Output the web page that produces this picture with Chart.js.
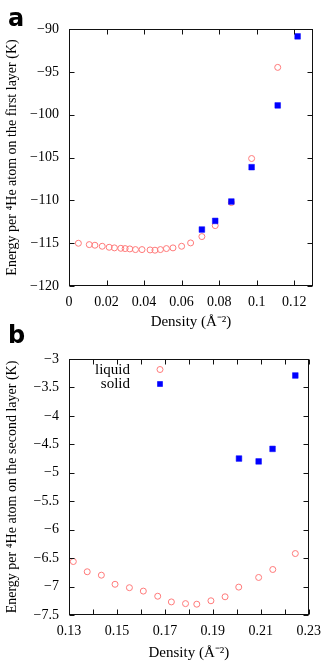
<!DOCTYPE html>
<html>
<head>
<meta charset="utf-8">
<script src="https://cdn.jsdelivr.net/npm/chart.js@4.4.0/dist/chart.umd.min.js"></script>
<style>
  body { margin: 0; background: #fff; width: 329px; height: 661px; position: relative; overflow: hidden; }
  .panel { position: absolute; left: 0; width: 329px; }
  .tag { position: absolute; left: 8px; font: bold 24px "DejaVu Sans"; line-height: 24px; color: #000; }
</style>
</head>
<body>
<div class="panel" style="top:0;height:330px"><canvas id="first" width="329" height="330"></canvas></div>
<div class="panel" style="top:330px;height:331px"><canvas id="second" width="329" height="331"></canvas></div>
<div class="tag" style="top:6px">a</div>
<div class="tag" style="top:323px">b</div>
<script>
// panel a: first layer
const firstLiquidX = [0.005, 0.0108, 0.0138, 0.0177, 0.0214, 0.0242, 0.0276, 0.0299, 0.0324, 0.0354, 0.0389,
  0.0432, 0.0458, 0.0487, 0.0519, 0.0554, 0.0600, 0.0648, 0.0708, 0.0779, 0.0865, 0.0973, 0.1112];
const firstLiquidY = [-115.01, -115.17, -115.24, -115.36, -115.48, -115.55, -115.6, -115.63, -115.67, -115.75, -115.75,
  -115.79, -115.82, -115.75, -115.63, -115.55, -115.36, -114.97, -114.23, -112.95, -110.26, -105.12, -94.48];
const firstSolidX = [0.0708, 0.0779, 0.0865, 0.0973, 0.1112, 0.1218];
const firstSolidY = [-113.41, -112.4, -110.14, -106.13, -98.92, -90.86];
const firstXTicks = [0, 0.02, 0.04, 0.06, 0.08, 0.1, 0.12];
const firstYTicks = [-120, -115, -110, -105, -100, -95, -90];

// panel b: second layer
const secondLiquidX = [0.1318, 0.1376, 0.1435, 0.1492, 0.1552, 0.1610, 0.1670, 0.1727, 0.1786, 0.1833, 0.1892,
  0.1951, 0.2008, 0.2091, 0.2150, 0.2244];
const secondLiquidY = [-6.56, -6.74, -6.80, -6.96, -7.02, -7.08, -7.17, -7.27, -7.30, -7.31, -7.25,
  -7.18, -7.01, -6.84, -6.70, -6.42];
const secondSolidX = [0.2009, 0.2091, 0.2149, 0.2244];
const secondSolidY = [-4.75, -4.80, -4.58, -3.29];
const secondXTicks = [0.13, 0.14, 0.15, 0.16, 0.17, 0.18, 0.19, 0.20, 0.21, 0.22, 0.23];
const secondXLabels = ['0.13', '', '0.15', '', '0.17', '', '0.19', '', '0.21', '', '0.23'];
const secondYTicks = [-7.5, -7, -6.5, -6, -5.5, -5, -4.5, -4, -3.5, -3];

const legendNames = ['liquid', 'solid'];

const serif = 'Liberation Serif';
const liquidColor = '#ff7a7a';
const solidColor = '#0000ff';

function minus(v) {
  return v < 0 ? '\u2212' + String(Math.abs(v)) : String(v);
}

function pts(xs, ys) {
  return xs.map((x, i) => ({ x: x, y: ys[i] }));
}

// inward ticks on all four sides plus the box
const frame = {
  id: 'frame',
  afterDraw(chart) {
    const { ctx, chartArea: a, scales } = chart;
    const L = Math.round(a.left) + 0.5, R = Math.round(a.right) - 0.5;
    const T = Math.round(a.top) + 0.5, B = Math.round(a.bottom) - 0.5;
    ctx.save();
    ctx.strokeStyle = '#111';
    ctx.lineWidth = 1;
    ctx.strokeRect(L, T, R - L, B - T);
    ctx.beginPath();
    scales.x.ticks.forEach(t => {
      const px = Math.round(scales.x.getPixelForValue(t.value)) + 0.5;
      ctx.moveTo(px, B); ctx.lineTo(px, B - 5);
      ctx.moveTo(px, T); ctx.lineTo(px, T + 5);
    });
    scales.y.ticks.forEach(t => {
      const py = Math.round(scales.y.getPixelForValue(t.value)) + 0.5;
      ctx.moveTo(L, py); ctx.lineTo(L + 5, py);
      ctx.moveTo(R, py); ctx.lineTo(R - 5, py);
    });
    ctx.stroke();
    ctx.restore();
  }
};

const keyBox = {
  id: 'keyBox',
  afterDraw(chart, args, opts) {
    if (!opts.show) return;
    const ctx = chart.ctx;
    ctx.save();
    ctx.font = '15px "' + serif + '"';
    ctx.fillStyle = '#000';
    ctx.textAlign = 'right';
    ctx.textBaseline = 'middle';
    ctx.fillText(legendNames[0], 130, 40);
    ctx.fillText(legendNames[1], 130, 54);
    ctx.strokeStyle = liquidColor;
    ctx.lineWidth = 1;
    ctx.beginPath();
    ctx.arc(160, 39.5, 3, 0, Math.PI * 2);
    ctx.stroke();
    ctx.fillStyle = solidColor;
    ctx.fillRect(157.2, 51.2, 5.6, 5.6);
    ctx.restore();
  }
};

function makeChart(id, cfg) {
  new Chart(document.getElementById(id), {
    type: 'scatter',
    data: {
      datasets: [
        { label: legendNames[0], data: cfg.liquid, pointStyle: 'circle', pointRadius: 3, order: 1,
          backgroundColor: 'rgba(0,0,0,0)', borderColor: liquidColor, borderWidth: 1, clip: false },
        { label: legendNames[1], data: cfg.solid, pointStyle: 'rect', pointRadius: 4, order: 0,
          backgroundColor: solidColor, borderColor: solidColor, borderWidth: 0.5, clip: false }
      ]
    },
    options: {
      responsive: false,
      animation: false,
      layout: { padding: { top: 29, right: 16, left: 0, bottom: 0 } },
      scales: {
        x: {
          type: 'linear', min: cfg.xMin, max: cfg.xMax,
          grid: { display: false, drawTicks: false },
          border: { display: false },
          afterBuildTicks: s => { s.ticks = cfg.xTicks.map(v => ({ value: v })); },
          afterFit: s => { s.height = cfg.xHeight; },
          ticks: {
            autoSkip: false, maxRotation: 0, padding: 8, color: '#000',
            font: { family: serif, size: 14 },
            callback: (v, i) => cfg.xLabels ? cfg.xLabels[i] : minus(v)
          },
          title: {
            display: true, text: 'Density (\u00c5\u207b\u00b2)', color: '#000',
            font: { family: serif, size: 15, lineHeight: 1 }, padding: { top: 0, bottom: 0 }
          }
        },
        y: {
          type: 'linear', min: cfg.yMin, max: cfg.yMax,
          grid: { display: false, drawTicks: false },
          border: { display: false },
          afterBuildTicks: s => { s.ticks = cfg.yTicks.map(v => ({ value: v })); },
          afterFit: s => { s.width = 69; },
          ticks: {
            autoSkip: false, padding: 10, color: '#000',
            font: { family: serif, size: 14 },
            callback: v => minus(v)
          },
          title: {
            display: true, text: cfg.yTitle, color: '#000',
            font: { family: serif, size: 14, lineHeight: 1 }, padding: { top: 5, bottom: 0 }
          }
        }
      },
      plugins: {
        legend: { display: false },
        tooltip: { enabled: false },
        keyBox: { show: cfg.key }
      }
    },
    plugins: [frame, keyBox]
  });
}

makeChart('first', {
  liquid: pts(firstLiquidX, firstLiquidY),
  solid: pts(firstSolidX, firstSolidY),
  xMin: 0, xMax: 0.13, yMin: -120, yMax: -90,
  xTicks: firstXTicks, yTicks: firstYTicks, xHeight: 44,
  yTitle: 'Energy per \u2074He atom on the first layer (K)',
  key: false
});

makeChart('second', {
  liquid: pts(secondLiquidX, secondLiquidY),
  solid: pts(secondSolidX, secondSolidY),
  xMin: 0.13, xMax: 0.23, yMin: -7.5, yMax: -3,
  xTicks: secondXTicks, xLabels: secondXLabels, yTicks: secondYTicks, xHeight: 46,
  yTitle: 'Energy per \u2074He atom on the second layer (K)',
  key: true
});
</script>
</body>
</html>
